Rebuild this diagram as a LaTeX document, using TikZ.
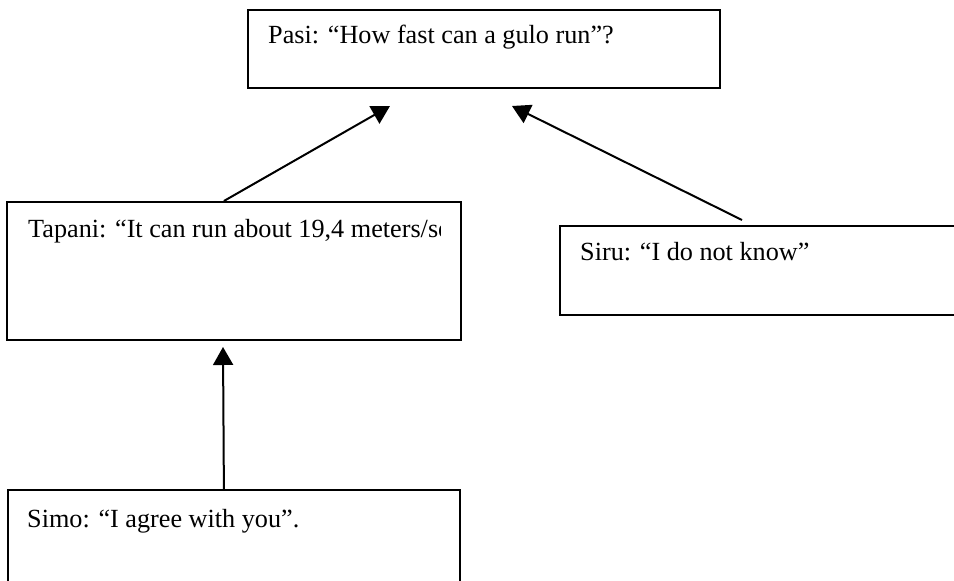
\documentclass[tikz,border=0pt]{standalone}
\usepackage{fontspec}
\setmainfont{Liberation Serif}
\usetikzlibrary{arrows.meta}
\tikzset{
  box/.style={draw=black, line width=1.8pt, rectangle, anchor=north west, inner sep=0pt, minimum width=#1},
  txt/.style={anchor=base west, inner sep=0pt, font=\fontsize{26.2}{30}\selectfont},
  conn/.style={line width=2pt, -{Triangle[length=18pt,width=20pt]}}
}
\begin{document}
\begin{tikzpicture}[x=1pt,y=-1pt]
\clip (0,0) rectangle (954,581);
\fill[white] (0,0) rectangle (954,581);
% boxes
\node[box=472pt, minimum height=78pt] (pasi) at (247,9) {};
\node[box=454pt, minimum height=138pt] (tapani) at (6,201) {};
\node[box=421pt, minimum height=89pt] (siru) at (559,225) {};
\node[box=452pt, minimum height=131pt] (simo) at (7,489) {};
% texts
\node[txt] (pasit) at (268,43) {Pasi: “How fast can a gulo run”?};
\begin{scope}
\clip (6,201) rectangle (440.5,339);
\node[txt] (tapanit) at (28,237) {Tapani: “It can run about 19,4 meters/sec”};
\end{scope}
\node[txt] (sirut) at (580,260) {Siru: “I do not know”};
\node[txt] (simot) at (27,527) {Simo: “I agree with you”.};
% arrow tips
\coordinate (tipA) at (390,106);
\coordinate (tipB) at (512,106);
\coordinate (tipC) at (223,347);
\draw[conn] ([xshift=-10pt]tapani.north) -- (tipA);
\draw[conn] ([xshift=183pt,yshift=5pt]siru.north west) -- (tipB);
\draw[conn] ([xshift=-10pt]simo.north) -- (tipC);
\end{tikzpicture}
\end{document}
